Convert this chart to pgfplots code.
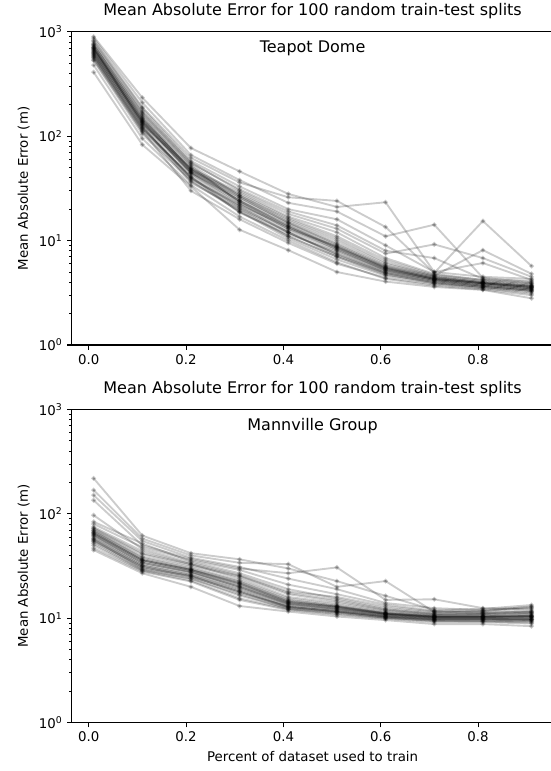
\documentclass[border=0pt]{standalone}
\usepackage{fontspec}
\setmainfont{DejaVu Sans}
\usepackage{pgfplots}
\usepackage{pgfplotstable}
\pgfplotsset{compat=1.18}

% rows: fraction used to train; columns: one train-test split each
\pgfplotstableread{
x l1 l2 l3 l4 l5 l6 l7 l8 l9 l10 l11 l12 l13 l14 l15 l16 l17 l18 l19 l20 l21 l22 l23 l24 l25 l26 l27 l28 l29 l30
0.01 650 720 580 810 690 540 760 620 870 600 700 480 660 750 560 830 640 710 410 590 680 780 530 900 630 740 570 670 610 700
0.11 140 130 120 185 160 110 150 135 210 125 145 95 138 170 115 190 128 155 83 118 142 175 105 234 132 165 112 148 122 137
0.21 46 49 40 58 52 38 50 44 66 36 48 34 45 55 41 62 39 47 33 42 49 56 37 77 44 53 30 47 40 45
0.31 24 29 21 33 23 19 27 22 38 20 26 17 25 31 18.5 36 22 28 12.7 21 24 30 19 46 23 27 16 26 20 24
0.41 14 17 12 20 13 11 16 13.5 23 12 15 10 14.5 19 11.5 26 12.5 16.5 8.1 12 13.8 18 10.5 28 13 15.5 9.5 14.8 11 13.5
0.51 8.5 12 7.5 16 8.8 7 10.5 8.2 19 7.2 9.5 6.2 9 14 7.8 24 8 11 5 7.4 8.7 13 6.6 21 8.3 10 6 9.2 7 8.6
0.61 5.4 6.8 5 9 5.6 4.8 6.2 5.3 11 4.9 5.8 4.3 5.5 8 5.1 13.5 5.2 6.5 4.05 4.9 5.4 7.5 4.6 23.3 5.2 6 4.4 5.7 4.7 5.5
0.71 4.3 4.8 4.1 5 4.4 3.9 4.6 4.3 14.2 4 4.5 3.7 4.4 6.8 4.2 4.9 4.2 4.7 3.6 4.1 4.3 9.2 3.9 5.0 4.2 4.6 3.8 4.5 4 4.3
0.81 3.9 4.2 3.7 6.1 4 3.5 4.1 3.9 4.4 3.6 4 3.4 3.9 4.3 3.7 15.4 3.8 4.2 3.37 3.7 3.9 6.8 3.6 4.5 3.8 8.1 3.5 4.0 3.6 3.9
0.91 3.6 3.9 3.4 4.2 3.7 3.2 3.8 3.5 4.0 3.3 3.7 3.0 3.6 4.1 3.4 5.7 3.5 3.9 2.8 3.4 3.6 4.5 3.3 4.3 3.5 4.8 3.1 3.7 3.3 3.6
}\teapot

\pgfplotstableread{
x l1 l2 l3 l4 l5 l6 l7 l8 l9 l10 l11 l12 l13 l14 l15 l16 l17 l18 l19 l20 l21 l22 l23 l24 l25 l26 l27 l28 l29 l30
0.01 66 72 58 80 64 52 75 62 219 55 70 47 68 151 57 84 61 73 45 59 65 135 54 169 63 97 50 69 56 66
0.11 36 41 32 48 35 29 44 34 62 31 39 28 37 55 30 52 33 42 27 32 36 50 29.5 58 34 46 28.5 38 31 36
0.21 29 32 26 36 28 24 33 27.5 42 25 31 22.5 29.5 38 25.5 35 27 33 20 26 29 37 24 40 28 34 23 30 25 29
0.31 21.5 25 19 29 20.5 17 24 20 36.7 18 23 15 22 31 17.5 27 19.5 25.5 13.1 18.5 21 30 16.5 34 20 26 15.5 22.5 18 21.6
0.41 14.4 17 13.2 21 14 12.3 16 13.8 30 12.8 15.5 12 14.8 24 13 19 13.5 17.5 11.6 12.9 14.2 27 12.5 33 13.7 18 12.2 15 12.7 14.4
0.51 12.9 14.5 12 17 12.6 11.3 14 12.4 22.7 11.8 13.5 10.8 13 19 11.6 15.5 12.2 15 10.4 11.7 12.8 30.7 11.4 20 12.3 16 11 13.2 11.5 12.9
0.61 11.1 12 10.6 13.5 11 10.2 11.8 10.9 16.4 10.4 11.5 9.9 11.2 14 10.5 12.5 10.8 12.2 9.6 10.4 11 15 10.1 22.7 10.8 13 10 11.3 10.3 11.1
0.71 10.4 11 10 11.8 10.3 9.6 10.9 10.2 12 9.8 10.7 9.2 10.5 12.5 9.9 11.4 10.1 11.1 8.8 9.8 10.3 15.2 9.5 11.5 10.2 11.6 9.4 10.6 9.7 10.4
0.81 10.4 11.2 9.9 11.8 10.3 9.5 11 10.2 12.3 9.8 10.8 9.2 10.5 12 9.9 11.5 10.1 11 8.8 9.8 10.3 12.5 9.5 11.7 10.2 11.3 9.3 10.6 9.7 10.4
0.91 10.5 11.5 9.8 12.5 10.4 9.3 11.2 10.2 13.4 9.7 11 8.9 10.6 12.8 9.8 11.8 10.1 11.3 8.4 9.7 10.4 12.2 9.4 13 10.2 11.6 9.1 10.8 9.6 10.5
}\mannville

\pgfplotsset{
  maeaxis/.style={
    scale only axis,
    width=361.3pt,
    height=234.9pt,
    xmin=-0.035, xmax=0.955,
    ymin=1, ymax=1000,
    xtick={0,0.2,0.4,0.6,0.8},
    xticklabels={0.0,0.2,0.4,0.6,0.8},
    ytick={1,10,100,1000},
    yticklabels={10\textsuperscript{0},10\textsuperscript{1},10\textsuperscript{2},10\textsuperscript{3}},
    tick align=outside,
    xtick pos=bottom,
    ytick pos=left,
    major tick length=3.5pt,
    minor tick length=2pt,
    tick style={black, line width=0.8pt},
    minor tick style={black, line width=0.6pt},
    axis line style={line width=0.8pt},
    ticklabel style={font=\fontsize{10}{12}\selectfont},
    label style={font=\fontsize{10}{12}\selectfont},
    ylabel={Mean Absolute Error (m)},
    title={Mean Absolute Error for 100 random train-test splits},
    title style={font=\fontsize{12}{14}\selectfont,
      at={(0.5,1)}, anchor=base, yshift=6pt},
  },
  splitline/.style={black, line width=1.4pt, opacity=0.2, mark=*, mark size=1pt},
}

\begin{document}
\begin{tikzpicture}
\begin{semilogyaxis}[maeaxis, at={(53.8pt,-258.75pt)}, anchor=south west]
\pgfplotsinvokeforeach{1,...,30}{
  \addplot[splitline] table[x=x, y=l#1] {\teapot};
}
\node[font=\fontsize{12}{14}\selectfont, anchor=base, yshift=-15.5pt]
  at (rel axis cs:0.5,1) {Teapot Dome};
\end{semilogyaxis}

\begin{semilogyaxis}[maeaxis, at={(53.8pt,-542pt)}, anchor=south west,
  xlabel={Percent of dataset used to train}]
\pgfplotsinvokeforeach{1,...,30}{
  \addplot[splitline] table[x=x, y=l#1] {\mannville};
}
\node[font=\fontsize{12}{14}\selectfont, anchor=base, yshift=-15.5pt]
  at (rel axis cs:0.5,1) {Mannville Group};
\end{semilogyaxis}

\pgfresetboundingbox
\useasboundingbox (0pt,0pt) rectangle (412.5pt,-578.25pt);
\end{tikzpicture}
\end{document}
